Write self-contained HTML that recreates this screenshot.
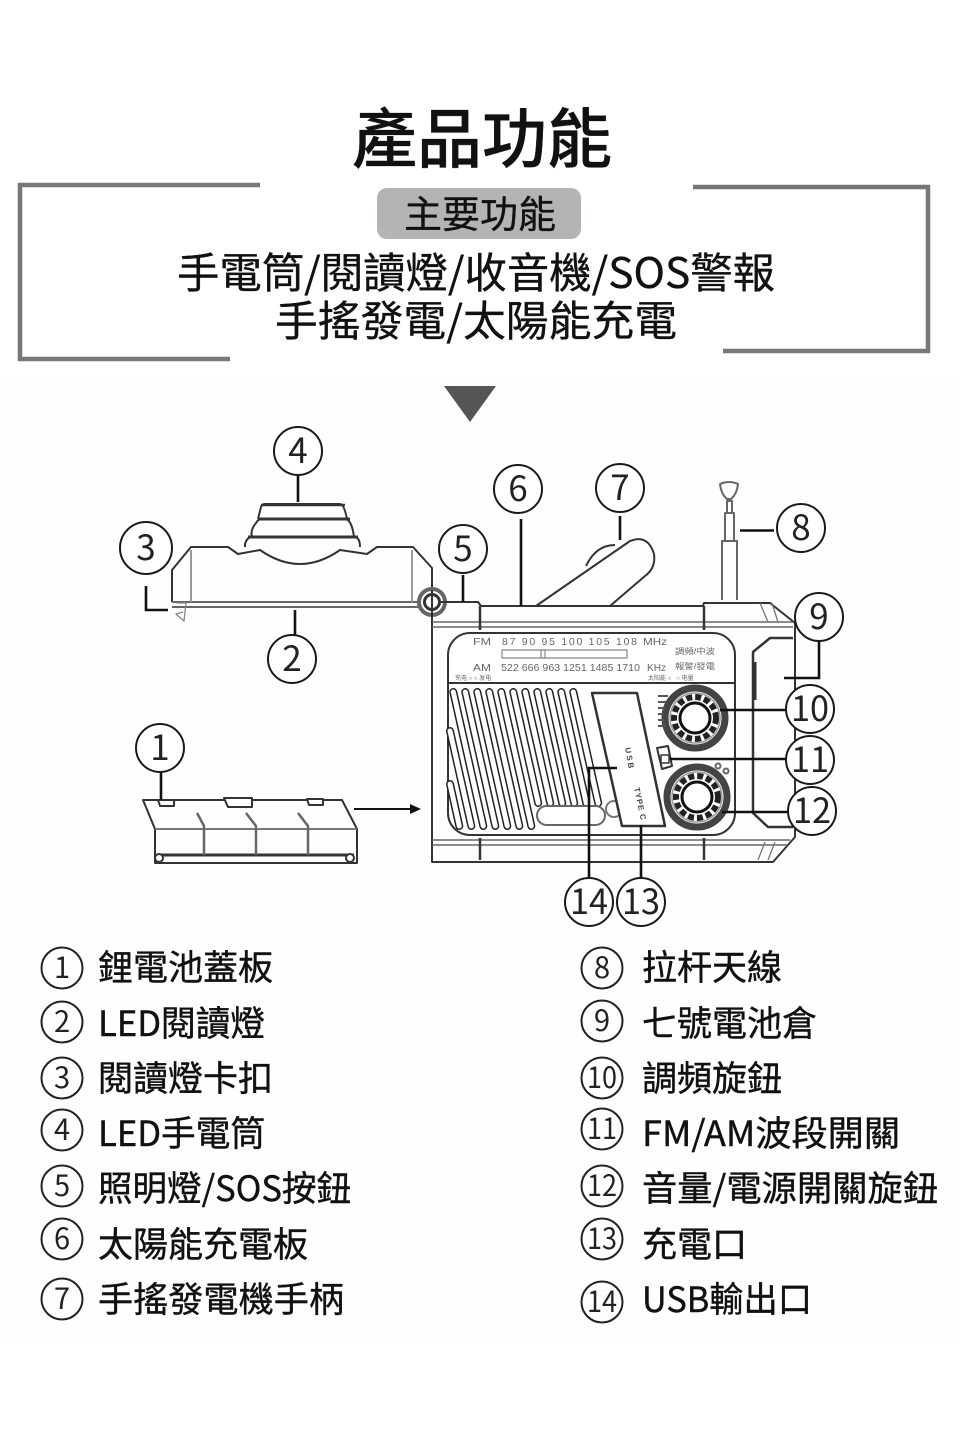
<!DOCTYPE html>
<html lang="zh-Hant"><head><meta charset="utf-8"><title>產品功能</title>
<style>
html,body{margin:0;padding:0;background:#fff}
svg{display:block}
text{font-family:"Liberation Sans","Noto Sans CJK TC",sans-serif}
.c{font-family:"Noto Sans CJK TC",sans-serif;fill:#111;stroke:#111;stroke-width:.35}
.n{font-family:"Noto Sans CJK TC",sans-serif;font-size:35px;text-anchor:middle;fill:#222}
.l{font-family:"Noto Sans CJK TC",sans-serif;font-size:35px;fill:#111;stroke:#111;stroke-width:.4}
.m{font-family:"Noto Sans CJK TC",sans-serif;font-size:29px;text-anchor:middle;fill:#222}
.t{font-size:10.5px;fill:#666;font-family:"Liberation Sans","Noto Sans CJK TC",sans-serif}
</style></head><body>
<svg width="960" height="1440" viewBox="0 0 960 1440" xmlns="http://www.w3.org/2000/svg">
<rect width="960" height="1440" fill="#fff"/>
<rect x="0" y="378" width="960" height="962" fill="#fefefe"/>
<!-- header -->
<text class="c" x="352" y="162" font-size="65" textLength="260" lengthAdjust="spacingAndGlyphs" font-weight="500" fill="#000">產品功能</text>
<path d="M260 185H20V359H230" fill="none" stroke="#777" stroke-width="4.5"/>
<path d="M693 187H928V351H723" fill="none" stroke="#777" stroke-width="4.5"/>
<rect x="377" y="188" width="204" height="51" rx="10" fill="#b5b3b4"/>
<text class="c" x="404" y="228" font-size="38" textLength="152" lengthAdjust="spacingAndGlyphs">主要功能</text>
<text class="c" x="177" y="288" font-size="42" textLength="598" lengthAdjust="spacingAndGlyphs">手電筒/閱讀燈/收音機/SOS警報</text>
<text class="c" x="275" y="336" font-size="42" textLength="402" lengthAdjust="spacingAndGlyphs">手搖發電/太陽能充電</text>
<polygon points="444,386 496,386 470,422" fill="#555"/>

<g fill="none" stroke="#333" stroke-width="2" stroke-linejoin="round">
<!-- lamp -->
<path d="M172 602V570L191 547H228L238 554L260 550Q300 578 340 550L367 554L377 547H413L432 568V590"/>
<path d="M172 602H420M172 607H420" stroke="#666"/>
<path d="M191 550V602M412 550V602" stroke="#999"/>
<path d="M258 519L261 507Q262 504 265 504H340Q344 504 347 519"/>
<path d="M252 537Q250 530 256 523Q258 519 262 519H346Q352 521 354 537"/>
<path d="M245 547V544Q247 537 252 537H355Q360 538 360 547"/>
<path d="M258 519H350M248 537H358" stroke-width="3"/>
<path d="M261 505H345" stroke-width="2.5"/>
<path d="M177 603H186L184 621L176 614L183 612" stroke="#888" stroke-width="1.3"/>
<circle cx="432" cy="602" r="13" stroke-width="4" stroke="#666" fill="#fff"/>
<circle cx="432" cy="602" r="7.5" stroke-width="3" fill="#fff"/>
<!-- cover -->
<path d="M143 800H342L357 829V863H155V829Z"/>
<path d="M155 829H357" stroke="#777"/>
<path d="M158 855H354" stroke-width="3"/>
<path d="M197 813L204 826V855M246 813L256 826V855M298 813L308 826V855" stroke="#666" stroke-width="2.5"/>
<path d="M158 800H174V806H160ZM224 798H252V807H228ZM307 799H323V805H309Z" stroke-width="2" fill="#fff"/>
<circle cx="159" cy="858" r="4" fill="#fff"/><circle cx="350" cy="858" r="4" fill="#fff"/>
<!-- crank -->
<path d="M586 566Q596 545 615 545M536 606L630 541Q648 534 654 554Q656 568 645 576L610 606"/>
<!-- antenna -->
<path d="M722 600V541H737V600M725 541V513H734V541M727 513V501H732V513" stroke="#666"/>
<path d="M720 484Q729 480 738 484Q737 494 731 499H727Q721 494 720 484Z" stroke="#666"/>
<!-- radio -->
<path d="M432 590V862H773L795 837V623L770 603H704L703 606H481L478 602H440" />
<path d="M432 622H793M432 627H793M432 840H790M432 845H788" stroke="#666" stroke-width="1.5"/>
<path d="M480 606V630M704 606V630M480 838V860M704 838V860" stroke-width="2.5"/>
<rect x="448" y="633" width="287" height="202" rx="22" fill="#fff"/>
<path d="M448 683H735" stroke-width="2"/>
<path d="M760 603L768 622M772 603L778 622M775 842L768 860M765 842L758 860" stroke="#777" stroke-width="1.3"/>
<!-- battery door -->
<path d="M793 638H770L753 652V813L768 827H793" stroke-width="2.5"/>
<path d="M755 662V700" stroke-width="3"/>
<!-- grille -->
<path id="sl" d="M450 784L459.3 826M450 731L471.3 826M453.3 692L483.3 826M465.3 692L495.3 826M477.3 692L507.3 826M489.3 692L519.3 826M501.3 692L531.3 826M513.3 692L538.2 803M525.3 692L550.2 803M537.3 692L562.2 803M549.3 692L574.2 803M561.3 692L586.2 803M573.3 692L598.2 803" stroke="#222" stroke-width="8" stroke-linecap="round"/>
<path d="M450 784L459.3 826M450 731L471.3 826M453.3 692L483.3 826M465.3 692L495.3 826M477.3 692L507.3 826M489.3 692L519.3 826M501.3 692L531.3 826M513.3 692L538.2 803M525.3 692L550.2 803M537.3 692L562.2 803M549.3 692L574.2 803M561.3 692L586.2 803M573.3 692L598.2 803" stroke="#fff" stroke-width="5" stroke-linecap="round"/>
<rect x="537" y="806" width="68" height="19" rx="9.5" fill="#fff" stroke="#666"/>
<circle cx="614" cy="809" r="8" stroke="#777" fill="#fff"/>
<polygon points="592,693 637,693 665,826 622,826" fill="#fff" stroke-width="2.5"/>
<!-- knobs -->
<circle cx="695" cy="718" r="30" stroke="#444" stroke-width="7" fill="#fff"/>
<circle cx="695" cy="718" r="21" stroke="#222" stroke-width="6" stroke-dasharray="6 3"/>
<circle cx="695" cy="718" r="25" stroke="#999" stroke-width="1.5"/>
<circle cx="695" cy="718" r="15" stroke="#111" stroke-width="3"/>
<circle cx="697" cy="797" r="30" stroke="#444" stroke-width="7" fill="#fff"/>
<circle cx="697" cy="797" r="21" stroke="#222" stroke-width="6" stroke-dasharray="6 3"/>
<circle cx="697" cy="797" r="25" stroke="#999" stroke-width="1.5"/>
<circle cx="697" cy="797" r="15" stroke="#111" stroke-width="3"/>
<!-- switch -->
<path d="M657 748L668 746L672 766L662 769Z" fill="#fff"/>
<rect x="661" y="755" width="8" height="8" fill="#fff" stroke-width="1.5"/>
<circle cx="718" cy="766" r="2.5" stroke="#666"/><circle cx="726" cy="771" r="2.5" stroke="#666"/>
<path d="M658 696H668M658 702H666M658 708H665M658 714H664M658 720H664M658 726H666" stroke="#555" stroke-width="2"/>
<!-- tuner -->
<rect x="502" y="650" width="125" height="8" stroke="#888" stroke-width="1.2"/>
<rect x="541" y="650" width="4" height="8" stroke="#888" stroke-width="1.2"/>
</g>
<!-- radio labels -->
<g class="tt">
<text class="t" x="473" y="645" font-size="10.5" textLength="18" lengthAdjust="spacingAndGlyphs">FM</text>
<text class="t" x="502" y="645" textLength="135" lengthAdjust="spacing">87 90 95 100 105 108</text>
<text class="t" x="643" y="645" textLength="24" lengthAdjust="spacingAndGlyphs">MHz</text>
<text class="t" x="473" y="671" textLength="18" lengthAdjust="spacingAndGlyphs">AM</text>
<text class="t" x="501" y="671" textLength="139" lengthAdjust="spacingAndGlyphs">522 666 963 1251 1485 1710</text>
<text class="t" x="647" y="671" textLength="19" lengthAdjust="spacingAndGlyphs">KHz</text>
<text class="t" x="675" y="654" style="font-size:8px" textLength="40" lengthAdjust="spacingAndGlyphs">調頻/中波</text>
<text class="t" x="675" y="669" style="font-size:8px" textLength="40" lengthAdjust="spacingAndGlyphs">報警/發電</text>
<text class="t" x="455" y="680" style="font-size:6px">充电 ○ ○ 发电</text>
<text class="t" x="648" y="680" style="font-size:6px">太阳能 ○ &#160;&#160;○ 电量</text>
<text class="t" x="0" y="0" style="font-size:8px;font-weight:bold;fill:#444" transform="translate(625,748) rotate(80)" textLength="21">USB</text>
<text class="t" x="0" y="0" style="font-size:8px;font-weight:bold;fill:#444" transform="translate(634,788) rotate(78)" textLength="33">TYPE C</text>
</g>
<!-- arrow -->
<path d="M354 809H412" stroke="#111" stroke-width="2"/>
<polygon points="410,804 421,809 410,814" fill="#111"/>
<!-- leaders -->
<g fill="none" stroke="#111" stroke-width="2.6">
<path d="M298 476V502M295 610V636M161 773V800M146 586V610H168M463 575V602M521 519V606M620 516V540M740 530.5H774M819 641V678H784M720 710H788M670 759H788M722 812H790M617 768H589V880M641 825V878"/>
</g>
<!-- big numbered circles -->
<g fill="#fff" stroke="#1a1a1a" stroke-width="2">
<circle cx="298" cy="451" r="24"/><circle cx="146" cy="548" r="26"/><circle cx="292" cy="659" r="24"/><circle cx="160" cy="748" r="24"/><circle cx="463" cy="549" r="24"/><circle cx="518" cy="489" r="24"/><circle cx="620" cy="488" r="24"/><circle cx="801" cy="528" r="24"/><circle cx="819" cy="617" r="24"/><circle cx="810" cy="709" r="24"/><circle cx="810" cy="760" r="24"/><circle cx="812" cy="811" r="24"/><circle cx="589" cy="902" r="24"/><circle cx="641" cy="902" r="24"/>
</g>
<text class="n" x="298" y="463">4</text><text class="n" x="146" y="560">3</text><text class="n" x="292" y="671">2</text><text class="n" x="160" y="760">1</text><text class="n" x="463" y="561">5</text><text class="n" x="518" y="501">6</text><text class="n" x="620" y="500">7</text><text class="n" x="801" y="540">8</text><text class="n" x="819" y="629">9</text>
<text class="n" x="810" y="721" textLength="38" lengthAdjust="spacingAndGlyphs">10</text><text class="n" x="810" y="772" textLength="38" lengthAdjust="spacingAndGlyphs">11</text><text class="n" x="812" y="823" textLength="38" lengthAdjust="spacingAndGlyphs">12</text><text class="n" x="589" y="914" textLength="38" lengthAdjust="spacingAndGlyphs">14</text><text class="n" x="641" y="914" textLength="38" lengthAdjust="spacingAndGlyphs">13</text>
<!-- list circles -->
<g fill="none" stroke="#222" stroke-width="2">
<circle cx="62" cy="968" r="20.5"/><circle cx="62" cy="1022" r="20.5"/><circle cx="62" cy="1078" r="20.5"/><circle cx="62" cy="1130" r="20.5"/><circle cx="62" cy="1186" r="20.5"/><circle cx="62" cy="1239" r="20.5"/><circle cx="62" cy="1299" r="20.5"/>
<circle cx="602" cy="968" r="20.5"/><circle cx="602" cy="1021" r="20.5"/><circle cx="602" cy="1078" r="20.5"/><circle cx="602" cy="1129" r="20.5"/><circle cx="602" cy="1186" r="20.5"/><circle cx="602" cy="1239" r="20.5"/><circle cx="602" cy="1302" r="20.5"/>
</g>
<text class="m" x="62" y="978">1</text><text class="m" x="62" y="1032">2</text><text class="m" x="62" y="1088">3</text><text class="m" x="62" y="1140">4</text><text class="m" x="62" y="1196">5</text><text class="m" x="62" y="1249">6</text><text class="m" x="62" y="1309">7</text>
<text class="m" x="602" y="978">8</text><text class="m" x="602" y="1031">9</text><text class="m" x="602" y="1088" textLength="30" lengthAdjust="spacingAndGlyphs">10</text><text class="m" x="602" y="1139" textLength="30" lengthAdjust="spacingAndGlyphs">11</text><text class="m" x="602" y="1196" textLength="30" lengthAdjust="spacingAndGlyphs">12</text><text class="m" x="602" y="1249" textLength="30" lengthAdjust="spacingAndGlyphs">13</text><text class="m" x="602" y="1312" textLength="30" lengthAdjust="spacingAndGlyphs">14</text>
<!-- list text -->
<text class="l" x="98" y="980" textLength="175" lengthAdjust="spacingAndGlyphs">鋰電池蓋板</text>
<text class="l" x="98" y="1036" textLength="167" lengthAdjust="spacingAndGlyphs">LED閱讀燈</text>
<text class="l" x="98" y="1091" textLength="175" lengthAdjust="spacingAndGlyphs">閱讀燈卡扣</text>
<text class="l" x="98" y="1146" textLength="167" lengthAdjust="spacingAndGlyphs">LED手電筒</text>
<text class="l" x="98" y="1201" textLength="253" lengthAdjust="spacingAndGlyphs">照明燈/SOS按鈕</text>
<text class="l" x="98" y="1257" textLength="210" lengthAdjust="spacingAndGlyphs">太陽能充電板</text>
<text class="l" x="98" y="1312" textLength="246" lengthAdjust="spacingAndGlyphs">手搖發電機手柄</text>
<text class="l" x="642" y="980" textLength="140" lengthAdjust="spacingAndGlyphs">拉杆天線</text>
<text class="l" x="642" y="1036" textLength="175" lengthAdjust="spacingAndGlyphs">七號電池倉</text>
<text class="l" x="642" y="1091" textLength="140" lengthAdjust="spacingAndGlyphs">調頻旋鈕</text>
<text class="l" x="642" y="1146" textLength="258" lengthAdjust="spacingAndGlyphs">FM/AM波段開關</text>
<text class="l" x="642" y="1201" textLength="296" lengthAdjust="spacingAndGlyphs">音量/電源開關旋鈕</text>
<text class="l" x="642" y="1257" textLength="105" lengthAdjust="spacingAndGlyphs">充電口</text>
<text class="l" x="642" y="1312" textLength="170" lengthAdjust="spacingAndGlyphs">USB輸出口</text>
</svg>
</body></html>
